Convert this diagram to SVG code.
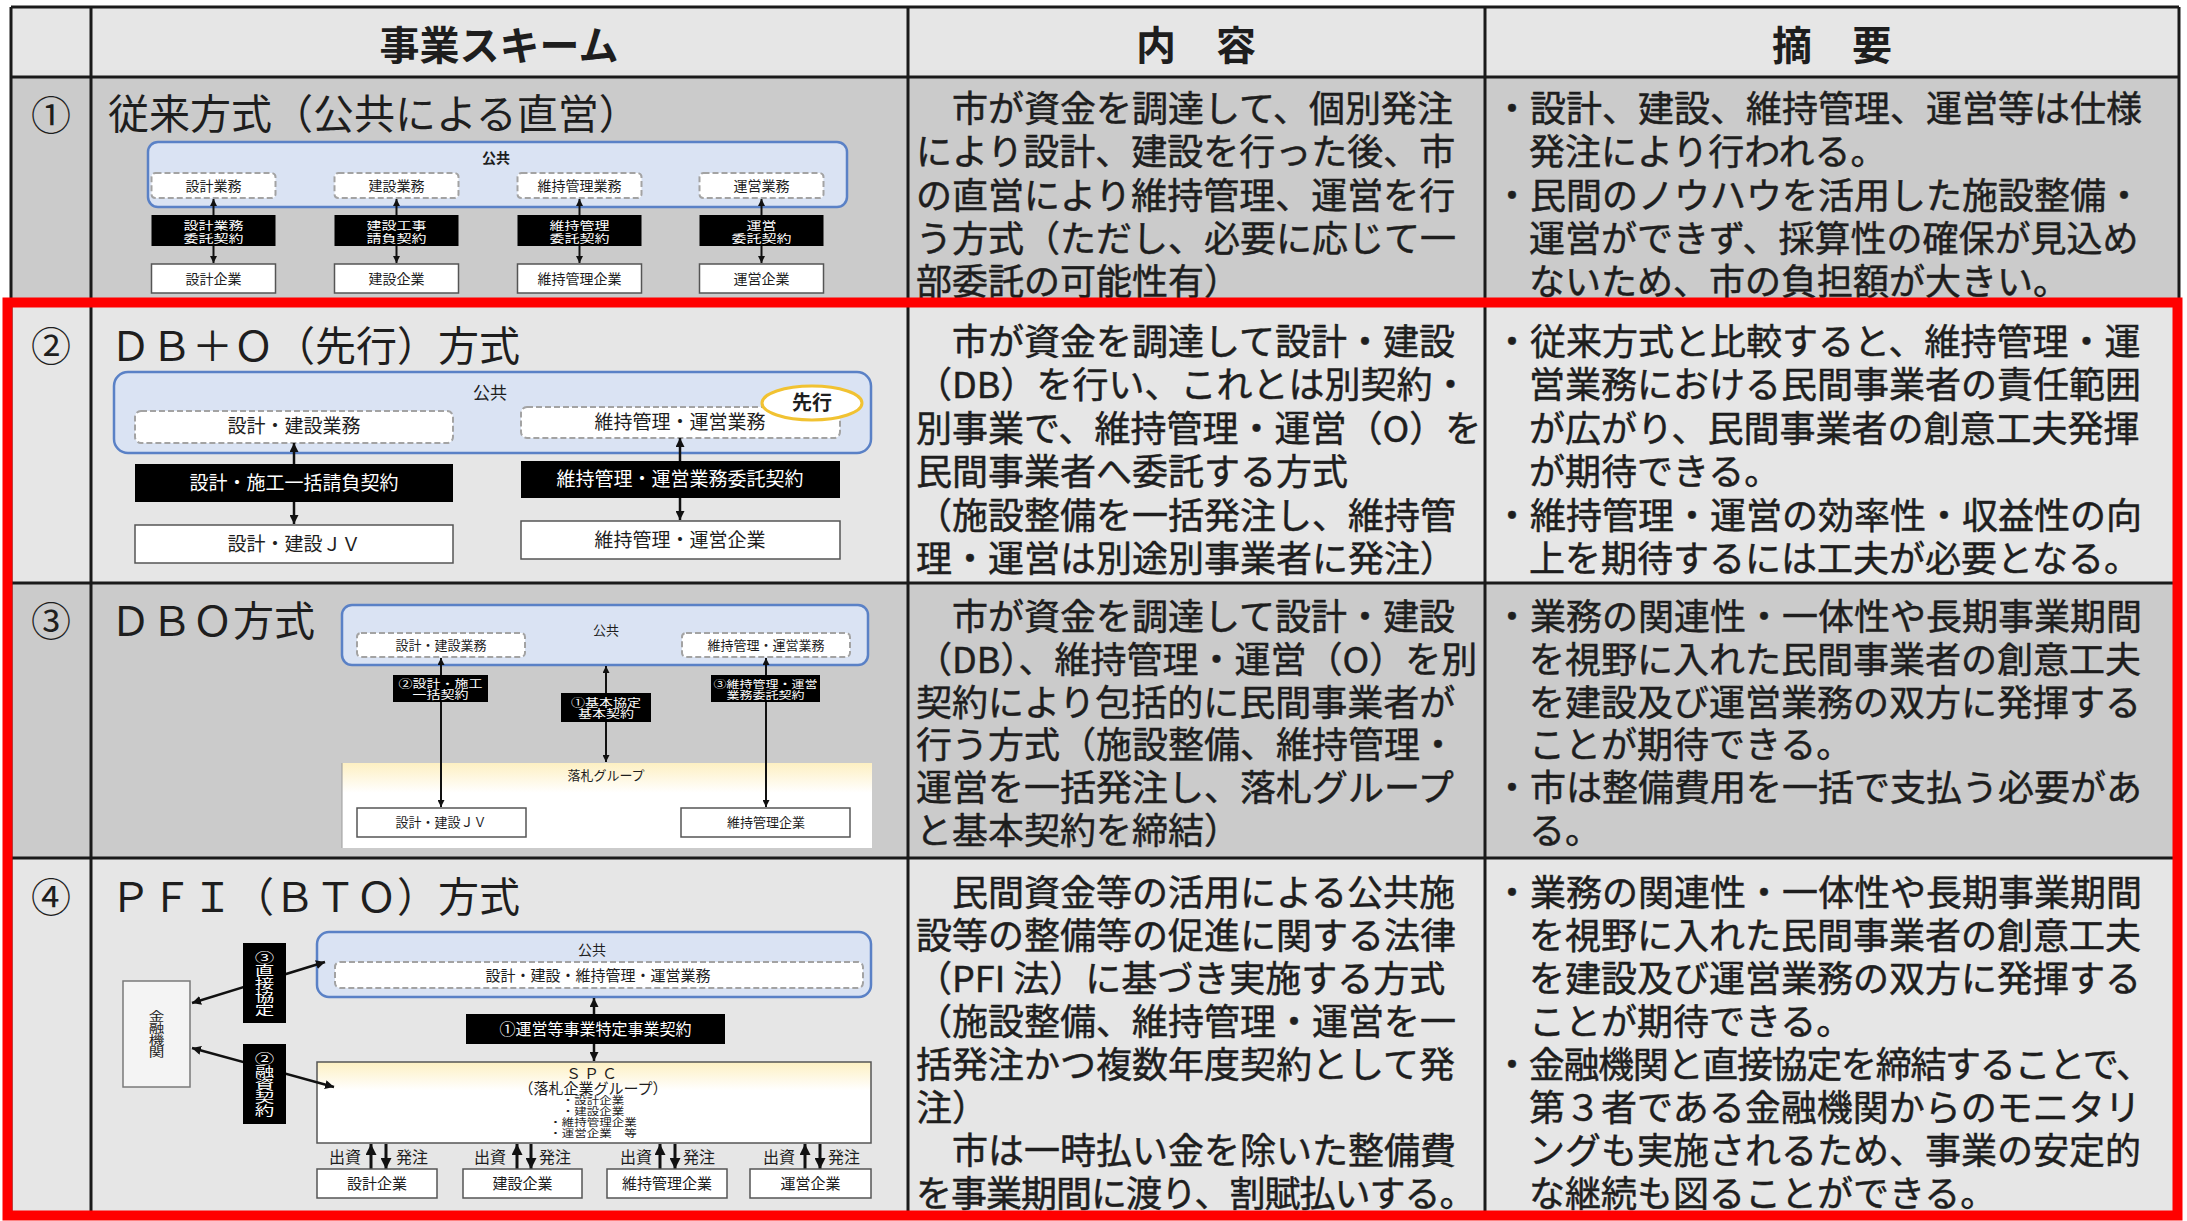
<svg xmlns="http://www.w3.org/2000/svg" width="2187" height="1221" viewBox="0 0 2187 1221">
<style>
text{font-family:"Noto Sans CJK JP","Noto Sans",sans-serif;fill:#1e1e1e}
.hd{font-size:40px;font-weight:bold;text-anchor:middle}
.no{font-size:40px;text-anchor:middle}
.tt{font-size:41px}
.bd{font-size:36px;stroke:#1e1e1e;stroke-width:0.5}
.grid{stroke:#1a1a1a;stroke-width:3;fill:none}
.pub{fill:#dae3f3;stroke:#5a81c6;stroke-width:2.5}
.dash{fill:#fff;stroke:#a3a3a3;stroke-width:2;stroke-dasharray:6 3}
.blk{fill:#000}
.wb{fill:#fff;stroke:#555;stroke-width:1.5}
.c{text-anchor:middle}
.w{fill:#fff}
.ln{stroke:#111;stroke-width:2;fill:none;marker-start:url(#ah);marker-end:url(#ah)}
.ln2{stroke:#111;stroke-width:2.5;fill:none;marker-start:url(#ah2);marker-end:url(#ah2)}
.lb{stroke:#111;stroke-width:3;fill:none;marker-end:url(#ah3)}
.vt{writing-mode:vertical-rl;text-anchor:middle}
</style>
<defs>
<marker id="ah" viewBox="0 0 10 10" refX="10" refY="5" markerWidth="7" markerHeight="7" markerUnits="userSpaceOnUse" orient="auto-start-reverse"><path d="M0,0 L10,5 L0,10 z" fill="#111"/></marker>
<marker id="ah2" viewBox="0 0 10 10" refX="10" refY="5" markerWidth="9" markerHeight="9" markerUnits="userSpaceOnUse" orient="auto-start-reverse"><path d="M0,0 L10,5 L0,10 z" fill="#111"/></marker>
<marker id="ah3" viewBox="0 0 10 10" refX="10" refY="5" markerWidth="11" markerHeight="11" markerUnits="userSpaceOnUse" orient="auto"><path d="M0,0 L10,5 L0,10 z" fill="#111"/></marker>
<linearGradient id="gy" x1="0" y1="0" x2="0" y2="1"><stop offset="0" stop-color="#fdf0c2"/><stop offset="0.35" stop-color="#ffffff"/></linearGradient>
</defs>
<rect x="0" y="0" width="2187" height="1221" fill="#ffffff"/>
<g id="table">
<rect x="11" y="7" width="2168" height="70" fill="#e6e6e6"/>
<rect x="11" y="77" width="2168" height="225" fill="#cbcbcb"/>
<rect x="11" y="302" width="2168" height="281" fill="#e6e6e6"/>
<rect x="11" y="583" width="2168" height="275" fill="#cbcbcb"/>
<rect x="11" y="858" width="2168" height="360" fill="#e6e6e6"/>
<path class="grid" d="M11,7 H2179 M11,77 H2179 M11,302 H2179 M11,583 H2179 M11,858 H2179 M11,1218 H2179 M11,7 V1218 M91,7 V1218 M908,7 V1218 M1485,7 V1218 M2179,7 V1218"/>
<text class="hd" x="499" y="60">事業スキーム</text>
<text class="hd" x="1196" y="60">内　容</text>
<text class="hd" x="1832" y="60">摘　要</text>
<text class="no" x="51" y="130">①</text>
<text class="no" x="51" y="361">②</text>
<text class="no" x="51" y="636">③</text>
<text class="no" x="51" y="912">④</text>
<text class="tt" x="108" y="129">従来方式（公共による直営）</text>
<text class="tt" x="110" y="361">ＤＢ＋Ｏ（先行）方式</text>
<text class="tt" x="110" y="636">ＤＢＯ方式</text>
<text class="tt" x="110" y="912">ＰＦＩ（ＢＴＯ）方式</text>
</g>
<g id="row1-text">
<text class="bd"><tspan x="916" y="122">　市が資金を調達して、個別発注</tspan><tspan x="916" y="165">により設計、建設を行った後、市</tspan><tspan x="916" y="209">の直営により維持管理、運営を行</tspan><tspan x="916" y="252">う方式（ただし、必要に応じて一</tspan><tspan x="916" y="295">部委託の可能性有）</tspan></text>
<text class="bd"><tspan x="1494" y="122">・設計、建設、維持管理、運営等は仕様</tspan><tspan x="1529" y="165">発注により行われる。</tspan><tspan x="1494" y="209">・民間のノウハウを活用した施設整備・</tspan><tspan x="1529" y="252">運営ができず、採算性の確保が見込め</tspan><tspan x="1529" y="295">ないため、市の負担額が大きい。</tspan></text>
</g>
<g id="row2-text">
<text class="bd"><tspan x="916" y="355">　市が資金を調達して設計・建設</tspan><tspan x="916" y="398">（DB）を行い、これとは別契約・</tspan><tspan x="916" y="442">別事業で、維持管理・運営（O）を</tspan><tspan x="916" y="485">民間事業者へ委託する方式</tspan><tspan x="916" y="529">（施設整備を一括発注し、維持管</tspan><tspan x="916" y="572">理・運営は別途別事業者に発注）</tspan></text>
<text class="bd"><tspan x="1494" y="355">・従来方式と比較すると、維持管理・運</tspan><tspan x="1529" y="398">営業務における民間事業者の責任範囲</tspan><tspan x="1529" y="442">が広がり、民間事業者の創意工夫発揮</tspan><tspan x="1529" y="485">が期待できる。</tspan><tspan x="1494" y="529">・維持管理・運営の効率性・収益性の向</tspan><tspan x="1529" y="572">上を期待するには工夫が必要となる。</tspan></text>
</g>
<g id="row3-text">
<text class="bd"><tspan x="916" y="630">　市が資金を調達して設計・建設</tspan><tspan x="916" y="673">（DB）、維持管理・運営（O）を別</tspan><tspan x="916" y="716">契約により包括的に民間事業者が</tspan><tspan x="916" y="758">行う方式（施設整備、維持管理・</tspan><tspan x="916" y="801">運営を一括発注し、落札グループ</tspan><tspan x="916" y="844">と基本契約を締結）</tspan></text>
<text class="bd"><tspan x="1494" y="630">・業務の関連性・一体性や長期事業期間</tspan><tspan x="1529" y="673">を視野に入れた民間事業者の創意工夫</tspan><tspan x="1529" y="716">を建設及び運営業務の双方に発揮する</tspan><tspan x="1529" y="758">ことが期待できる。</tspan><tspan x="1494" y="801">・市は整備費用を一括で支払う必要があ</tspan><tspan x="1529" y="844">る。</tspan></text>
</g>
<g id="row4-text">
<text class="bd"><tspan x="916" y="906">　民間資金等の活用による公共施</tspan><tspan x="916" y="949">設等の整備等の促進に関する法律</tspan><tspan x="916" y="992">（PFI 法）に基づき実施する方式</tspan><tspan x="916" y="1035">（施設整備、維持管理・運営を一</tspan><tspan x="916" y="1078">括発注かつ複数年度契約として発</tspan><tspan x="916" y="1121">注）</tspan><tspan x="916" y="1164">　市は一時払い金を除いた整備費</tspan><tspan x="916" y="1207" letter-spacing="-1">を事業期間に渡り、割賦払いする。</tspan></text>
<text class="bd"><tspan x="1494" y="906">・業務の関連性・一体性や長期事業期間</tspan><tspan x="1529" y="949">を視野に入れた民間事業者の創意工夫</tspan><tspan x="1529" y="992">を建設及び運営業務の双方に発揮する</tspan><tspan x="1529" y="1035">ことが期待できる。</tspan><tspan x="1494" y="1078" letter-spacing="-1.3">・金融機関と直接協定を締結することで、</tspan><tspan x="1529" y="1121">第３者である金融機関からのモニタリ</tspan><tspan x="1529" y="1164">ングも実施されるため、事業の安定的</tspan><tspan x="1529" y="1207">な継続も図ることができる。</tspan></text>
</g>

<!-- Diagram 1 -->
<g id="d1-public"><rect class="pub" x="148" y="142" width="699" height="65" rx="10"/><text class="c" x="496" y="163" font-size="14" font-weight="bold">公共</text></g>
<g id="d1-task1"><rect class="dash" x="151.5" y="173" width="124" height="25" rx="4"/><text class="c" x="213.5" y="191" font-size="14">設計業務</text></g>
<g id="d1-task2"><rect class="dash" x="334.5" y="173" width="124" height="25" rx="4"/><text class="c" x="396.5" y="191" font-size="14">建設業務</text></g>
<g id="d1-task3"><rect class="dash" x="517.5" y="173" width="124" height="25" rx="4"/><text class="c" x="579.5" y="191" font-size="14">維持管理業務</text></g>
<g id="d1-task4"><rect class="dash" x="699.5" y="173" width="124" height="25" rx="4"/><text class="c" x="761.5" y="191" font-size="14">運営業務</text></g>
<g id="d1-conn">
<line class="ln" x1="213.5" y1="199" x2="213.5" y2="263"/>
<line class="ln" x1="396.5" y1="199" x2="396.5" y2="263"/>
<line class="ln" x1="579.5" y1="199" x2="579.5" y2="263"/>
<line class="ln" x1="761.5" y1="199" x2="761.5" y2="263"/>
</g>
<g id="d1-c1"><rect class="blk" x="151.5" y="215" width="124" height="31"/><text class="c w" transform="translate(213.5 229.5) scale(1 0.75)" font-size="15"><tspan x="0" y="0">設計業務</tspan><tspan x="0" y="18">委託契約</tspan></text></g>
<g id="d1-c2"><rect class="blk" x="334.5" y="215" width="124" height="31"/><text class="c w" transform="translate(396.5 229.5) scale(1 0.75)" font-size="15"><tspan x="0" y="0">建設工事</tspan><tspan x="0" y="18">請負契約</tspan></text></g>
<g id="d1-c3"><rect class="blk" x="517.5" y="215" width="124" height="31"/><text class="c w" transform="translate(579.5 229.5) scale(1 0.75)" font-size="15"><tspan x="0" y="0">維持管理</tspan><tspan x="0" y="18">委託契約</tspan></text></g>
<g id="d1-c4"><rect class="blk" x="699.5" y="215" width="124" height="31"/><text class="c w" transform="translate(761.5 229.5) scale(1 0.75)" font-size="15"><tspan x="0" y="0">運営</tspan><tspan x="0" y="18">委託契約</tspan></text></g>
<g id="d1-e1"><rect class="wb" x="151.5" y="264" width="124" height="29"/><text class="c" x="213.5" y="284" font-size="14">設計企業</text></g>
<g id="d1-e2"><rect class="wb" x="334.5" y="264" width="124" height="29"/><text class="c" x="396.5" y="284" font-size="14">建設企業</text></g>
<g id="d1-e3"><rect class="wb" x="517.5" y="264" width="124" height="29"/><text class="c" x="579.5" y="284" font-size="14">維持管理企業</text></g>
<g id="d1-e4"><rect class="wb" x="699.5" y="264" width="124" height="29"/><text class="c" x="761.5" y="284" font-size="14">運営企業</text></g>

<!-- Diagram 2 -->
<g id="d2-public"><rect class="pub" x="114" y="372" width="757" height="81" rx="14"/><text class="c" x="490" y="399" font-size="17">公共</text></g>
<g id="d2-task1"><rect class="dash" x="135" y="411" width="318" height="32" rx="6"/><text class="c" x="294" y="433" font-size="19">設計・建設業務</text></g>
<g id="d2-task2"><rect class="dash" x="521" y="407" width="319" height="31" rx="6"/><text class="c" x="680" y="429" font-size="19">維持管理・運営業務</text></g>
<g id="d2-lead"><ellipse cx="812" cy="403" rx="50" ry="17" fill="#fff" stroke="#f1c232" stroke-width="3"/><text class="c" x="812" y="410" font-size="20" font-weight="bold">先行</text></g>
<g id="d2-conn">
<line class="ln2" x1="294" y1="443" x2="294" y2="524"/>
<line class="ln2" x1="680" y1="438" x2="680" y2="520"/>
</g>
<g id="d2-c1"><rect class="blk" x="135" y="464" width="318" height="38"/><text class="c w" x="294" y="490" font-size="19">設計・施工一括請負契約</text></g>
<g id="d2-c2"><rect class="blk" x="521" y="461" width="319" height="37"/><text class="c w" x="680" y="486" font-size="19">維持管理・運営業務委託契約</text></g>
<g id="d2-e1"><rect class="wb" x="135" y="525" width="318" height="38"/><text class="c" x="294" y="551" font-size="19">設計・建設ＪＶ</text></g>
<g id="d2-e2"><rect class="wb" x="521" y="521" width="319" height="38"/><text class="c" x="680" y="547" font-size="19">維持管理・運営企業</text></g>

<!-- Diagram 3 -->
<g id="d3-public"><rect class="pub" x="342" y="605" width="526" height="60" rx="10"/><text class="c" x="606" y="635" font-size="13">公共</text></g>
<g id="d3-task1"><rect class="dash" x="357" y="633" width="168" height="24" rx="4"/><text class="c" x="441" y="650" font-size="13">設計・建設業務</text></g>
<g id="d3-task2"><rect class="dash" x="682" y="633" width="168" height="24" rx="4"/><text class="c" x="766" y="650" font-size="13">維持管理・運営業務</text></g>
<g id="d3-group"><rect x="342" y="763" width="530" height="85" fill="url(#gy)"/><line x1="342" y1="763" x2="342" y2="848" stroke="#9a9a9a" stroke-width="1"/><text class="c" x="606" y="780" font-size="13">落札グループ</text></g>
<g id="d3-e1"><rect class="wb" x="357" y="808" width="169" height="29"/><text class="c" x="441" y="827" font-size="13">設計・建設ＪＶ</text></g>
<g id="d3-e2"><rect class="wb" x="681" y="808" width="169" height="29"/><text class="c" x="766" y="827" font-size="13">維持管理企業</text></g>
<g id="d3-conn">
<line class="ln" x1="441" y1="658" x2="441" y2="807"/>
<line class="ln" x1="606" y1="666" x2="606" y2="762"/>
<line class="ln" x1="766" y1="658" x2="766" y2="807"/>
</g>
<g id="d3-c2"><rect class="blk" x="393" y="675" width="95" height="27"/><text class="c w" transform="translate(440.5 687.5) scale(1 0.78)" font-size="14"><tspan x="0" y="0">②設計・施工</tspan><tspan x="0" y="14.7">一括契約</tspan></text></g>
<g id="d3-c1"><rect class="blk" x="561" y="693" width="90" height="29"/><text class="c w" transform="translate(606 706.5) scale(1 0.78)" font-size="14"><tspan x="0" y="0">①基本協定</tspan><tspan x="0" y="14.7">基本契約</tspan></text></g>
<g id="d3-c3"><rect class="blk" x="711" y="675" width="109" height="27"/><text class="c w" transform="translate(765.5 687.5) scale(1 0.8)" font-size="13"><tspan x="0" y="0">③維持管理・運営</tspan><tspan x="0" y="14.4">業務委託契約</tspan></text></g>

<!-- Diagram 4 -->
<g id="d4-public"><rect class="pub" x="317" y="932" width="554" height="65" rx="12"/><text class="c" x="592" y="955" font-size="14">公共</text></g>
<g id="d4-task"><rect class="dash" x="335" y="962" width="528" height="26" rx="5"/><text class="c" x="598" y="981" font-size="15">設計・建設・維持管理・運営業務</text></g>
<g id="d4-bank"><rect x="123" y="981" width="67" height="106" fill="#f4f4f4" stroke="#7a7a7a" stroke-width="1.5"/><text class="vt" transform="translate(156.5 1034) scale(1.3 1)" x="0" y="0" font-size="12">金融機関</text></g>
<g id="d4-spc"><rect x="317" y="1062" width="554" height="81" fill="url(#gy)" stroke="#555" stroke-width="1.5"/>
<text class="c" font-size="15"><tspan x="593" y="1079" letter-spacing="3">ＳＰＣ</tspan><tspan x="593" y="1094">（落札企業グループ）</tspan></text>
<text class="c" transform="translate(593 1104) scale(1 0.8)" font-size="12.5"><tspan x="0" y="0">・設計企業</tspan><tspan x="0" y="13.75">・建設企業</tspan><tspan x="0" y="27.5">・維持管理企業</tspan><tspan x="0" y="41.25">・運営企業　等</tspan></text></g>
<g id="d4-conn">
<line class="ln2" x1="192" y1="1003" x2="325" y2="962"/>
<line class="ln2" x1="192" y1="1048" x2="334" y2="1087"/>
<line class="ln2" x1="594" y1="998" x2="594" y2="1061"/>
<line class="lb" x1="371" y1="1169" x2="371" y2="1144"/>
<line class="lb" x1="386" y1="1144" x2="386" y2="1169"/>
<line class="lb" x1="517" y1="1169" x2="517" y2="1144"/>
<line class="lb" x1="531" y1="1144" x2="531" y2="1169"/>
<line class="lb" x1="660" y1="1169" x2="660" y2="1144"/>
<line class="lb" x1="675" y1="1144" x2="675" y2="1169"/>
<line class="lb" x1="805" y1="1169" x2="805" y2="1144"/>
<line class="lb" x1="820" y1="1144" x2="820" y2="1169"/>
</g>
<g id="d4-c3"><rect class="blk" x="243" y="943" width="43" height="80"/><text class="vt w" transform="translate(264.5 983) scale(1.5 1)" x="0" y="0" font-size="13">③直接協定</text></g>
<g id="d4-c2"><rect class="blk" x="243" y="1044" width="43" height="80"/><text class="vt w" transform="translate(264.5 1084) scale(1.5 1)" x="0" y="0" font-size="13">②融資契約</text></g>
<g id="d4-c1"><rect class="blk" x="466" y="1014" width="259" height="30"/><text class="c w" x="595.5" y="1035" font-size="16">①運営等事業特定事業契約</text></g>
<g id="d4-labels">
<text class="c" x="345" y="1163" font-size="16">出資</text><text class="c" x="412" y="1163" font-size="16">発注</text>
<text class="c" x="490" y="1163" font-size="16">出資</text><text class="c" x="555" y="1163" font-size="16">発注</text>
<text class="c" x="636" y="1163" font-size="16">出資</text><text class="c" x="699" y="1163" font-size="16">発注</text>
<text class="c" x="779" y="1163" font-size="16">出資</text><text class="c" x="844" y="1163" font-size="16">発注</text>
</g>
<g id="d4-e1"><rect class="wb" x="317" y="1169" width="120" height="29"/><text class="c" x="377" y="1189" font-size="15">設計企業</text></g>
<g id="d4-e2"><rect class="wb" x="463" y="1169" width="119" height="29"/><text class="c" x="522.5" y="1189" font-size="15">建設企業</text></g>
<g id="d4-e3"><rect class="wb" x="607" y="1169" width="120" height="29"/><text class="c" x="667" y="1189" font-size="15">維持管理企業</text></g>
<g id="d4-e4"><rect class="wb" x="750" y="1169" width="121" height="29"/><text class="c" x="810.5" y="1189" font-size="15">運営企業</text></g>

<g id="highlight"><rect x="7.5" y="302.5" width="2170" height="913" fill="none" stroke="#ff0000" stroke-width="10"/></g>
</svg>
